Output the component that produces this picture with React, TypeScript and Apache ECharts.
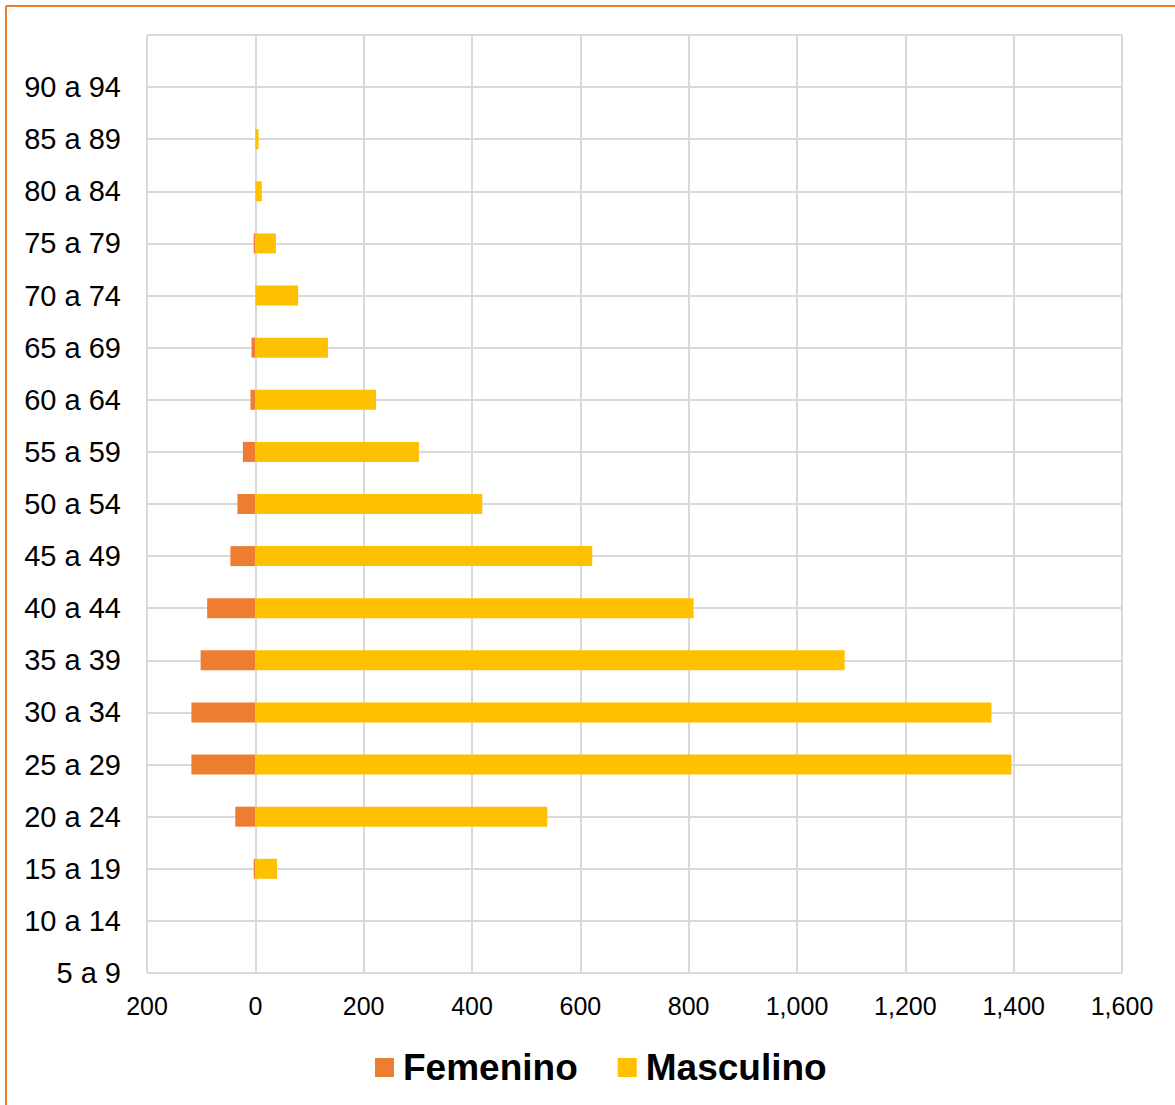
import React, { useEffect, useRef } from "react";
import * as echarts from "echarts";

const categories = ["5 a 9", "10 a 14", "15 a 19", "20 a 24", "25 a 29", "30 a 34", "35 a 39", "40 a 44", "45 a 49", "50 a 54", "55 a 59", "60 a 64", "65 a 69", "70 a 74", "75 a 79", "80 a 84", "85 a 89", "90 a 94", ""];
const femenino = [0, 0, -3, -37, -118, -118, -101, -89, -46, -33, -23, -9, -7, 0, -3, 0, 0, 0, null];
const masculino = [0, 0, 40, 539, 1396, 1359, 1088, 809, 622, 419, 302, 223, 134, 79, 38, 12, 6, 0, null];

const FONT = "'Liberation Sans', Arial, sans-serif";

export default function App() {
  const ref = useRef<HTMLDivElement>(null);
  useEffect(() => {
    const chart = echarts.init(ref.current!, null, { renderer: "svg" });
    chart.setOption({
      animation: false,
      backgroundColor: "#ffffff",
      grid: { left: 147, right: 53, top: 35, bottom: 132, containLabel: false },
      graphic: [
        { type: "line", shape: { x1: 6, y1: 6, x2: 1175, y2: 6 }, style: { stroke: "#ED7D31", lineWidth: 2 } },
        { type: "line", shape: { x1: 6, y1: 6, x2: 6, y2: 1105 }, style: { stroke: "#ED7D31", lineWidth: 2 } },
      ],
      legend: {
        data: ["Femenino", "Masculino"],
        left: 370,
        top: 1044,
        itemWidth: 19,
        itemHeight: 19,
        itemGap: 40,
        icon: "rect",
        textStyle: { fontFamily: FONT, fontSize: 37, fontWeight: "bold", color: "#000", padding: [0, 0, 0, 4] },
      },
      xAxis: {
        type: "value",
        min: -200,
        max: 1600,
        interval: 200,
        axisLine: { show: false },
        axisTick: { show: false },
        splitLine: { show: true, lineStyle: { color: "#D9D9D9", width: 2 } },
        axisLabel: {
          fontFamily: FONT,
          fontSize: 25,
          color: "#000",
          margin: 20,
          formatter: (v: number) => Math.abs(v).toLocaleString("en-US"),
        },
      },
      yAxis: {
        type: "category",
        data: categories,
        boundaryGap: false,
        axisLine: { show: true, lineStyle: { color: "#D9D9D9", width: 2 } },
        axisTick: { show: false },
        splitLine: { show: true, lineStyle: { color: "#D9D9D9", width: 2 } },
        axisLabel: { fontFamily: FONT, fontSize: 29, color: "#000", margin: 26, interval: 0 },
      },
      series: [
        {
          name: "Femenino",
          type: "bar",
          stack: "total",
          barWidth: 20,
          data: femenino,
          itemStyle: { color: "#ED7D31" },
        },
        {
          name: "Masculino",
          type: "bar",
          stack: "total",
          barWidth: 20,
          data: masculino,
          itemStyle: { color: "#FFC000" },
        },
      ],
    });
    return () => chart.dispose();
  }, []);
  return (
    <div style={{ position: "absolute", left: 0, top: 0, width: 1175, height: 1105 }}>
      <div ref={ref} style={{ width: 1175, height: 1105 }} />
    </div>
  );
}
